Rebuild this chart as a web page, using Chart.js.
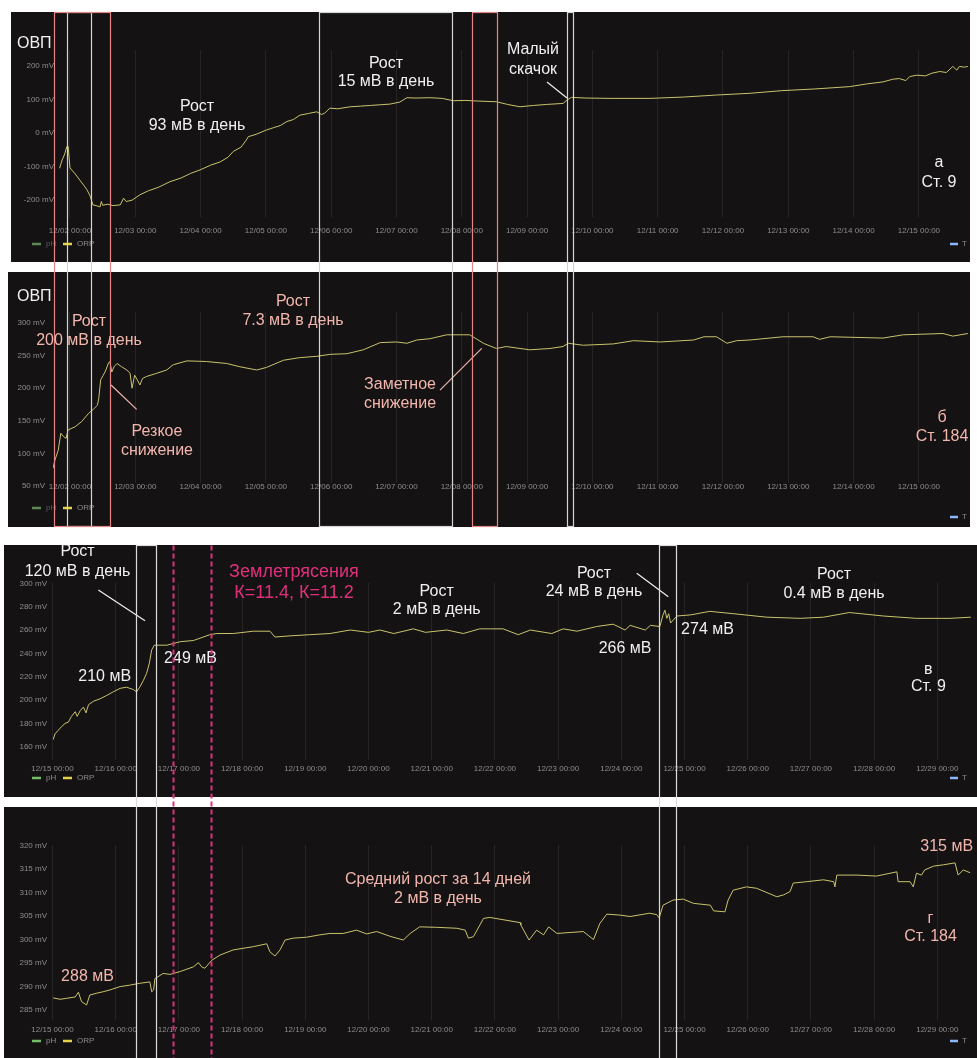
<!DOCTYPE html>
<html>
<head>
<meta charset="utf-8">
<script src="https://cdn.jsdelivr.net/npm/chart.js@4.4.1/dist/chart.umd.min.js"></script>
<style>
  body { margin: 0; background: #fff; }
  #wrap { position: relative; width: 977px; height: 1058px; overflow: hidden; }
  canvas { position: absolute; }
</style>
</head>
<body>
<div id="wrap">
  <canvas id="panelA" width="959" height="250" style="left:11px;top:12px"></canvas>
  <canvas id="panelB" width="962" height="255" style="left:8px;top:272px"></canvas>
  <canvas id="panelC" width="973" height="252" style="left:4px;top:545px"></canvas>
  <canvas id="panelD" width="973" height="251" style="left:4px;top:807px"></canvas>
  <canvas id="overlay" width="977" height="1058" style="left:0;top:0;pointer-events:none"></canvas>
</div>
<script>
// ---------------- данные (x = число декабря, дробная часть = время суток) ----------------
const tickDaysFirst  = [2, 3, 4, 5, 6, 7, 8, 9, 10, 11, 12, 13, 14, 15];
const tickDaysSecond = [15, 16, 17, 18, 19, 20, 21, 22, 23, 24, 25, 26, 27, 28, 29];

const ticksA = [-200, -100, 0, 100, 200];
const ticksB = [50, 100, 150, 200, 250, 300];
const ticksC = [160, 180, 200, 220, 240, 260, 280, 300];
const ticksD = [285, 290, 295, 300, 305, 310, 315, 320];

// а) Ст. 9, 02.12 - 15.12
const daysA = [1.84,1.88,1.92,1.95,1.97, 2.00,2.08,2.15,2.22,2.26, 2.31,2.35,2.40,2.46,2.48,
  2.50,2.58,2.66,2.77,2.82, 2.86,2.95,3.07,3.20,3.35, 3.53,3.70,3.85,3.99,4.15,
  4.30,4.42,4.50,4.62,4.70, 4.73,4.85,5.01,5.12,5.22, 5.32,5.42,5.52,5.65,5.78,
  5.85,5.90,5.98,6.10,6.29, 6.45,6.60,6.75,6.90,7.05, 7.16,7.30,7.51,7.70,7.87,
  8.05,8.25,8.53,8.70,8.89, 9.10,9.30,9.55,9.61,9.68, 9.90,10.30,10.88,11.40,11.90,
  12.40,12.90,13.40,13.94,14.20, 14.45,14.60,14.70,14.80,14.86, 14.97,15.10,15.20,15.32,15.42,
  15.52,15.58,15.62,15.70,15.75];
const orpA = [-105,-80,-62,-41,-39, -104,-122,-140,-158,-169, -188,-214,-216,-220,-204,
  -215,-212,-216,-214,-194, -204,-200,-184,-172,-162, -145,-134,-120,-110,-96,
  -86,-72,-55,-42,-21, -11,-4,9,16,22, 34,40,53,58,63,
  55,59,74,72,78, 80,82,84,86,92, 105,104,105,103,96,
  97,95,93,85,78, 82,85,88,98,106, 104,103,103,107,113,
  118,126,131,138,146, 152,160,162,156,168, 172,170,178,183,180,
  198,187,198,196,198];

// б) Ст. 184, 02.12 - 15.12
const daysB = [1.74,1.77,1.82,1.86,1.90, 1.94,1.97,2.08,2.18,2.28, 2.36,2.42,2.44,2.47,2.51,
  2.55,2.59,2.61,2.64,2.675, 2.72,2.79,2.87,2.92,2.95, 2.99,3.03,3.07,3.11,3.17,
  3.33,3.48,3.58,3.79,4.09, 4.40,4.60,4.86,5.01,5.27, 5.52,5.78,5.98,6.24,6.49,
  6.75,7.00,7.16,7.31,7.51, 7.77,8.02,8.12,8.22,8.33, 8.53,8.68,9.04,9.35,9.55,
  9.63,9.86,10.32,10.63,11.04, 11.55,11.71,11.90,12.06,12.21, 12.41,12.92,13.38,13.48,13.64,
  14.45,14.76,15.37,15.52,15.75];
const orpB = [77,90,105,131,126, 123,136,141,149,161, 168,174,184,213,220,
  228,239,241,225,233, 238,233,228,223,200, 220,213,205,215,218,
  223,228,236,242,241, 238,233,228,232,243, 247,249,252,253,259,
  270,271,269,274,276, 282,282,282,276,269, 261,264,259,261,264,
  269,266,268,273,271, 274,279,279,269,273, 274,279,279,275,279,
  277,282,284,280,284];

// в) Ст. 9, 15.12 - 29.12
const daysC = [15.01,15.04,15.09,15.14,15.20, 15.25,15.30,15.36,15.39,15.44, 15.49,15.53,15.57,15.65,15.75,
  15.86,15.96,16.07,16.17,16.28, 16.33,16.38,16.44,16.49,16.53, 16.57,16.61,16.67,16.81,17.02,
  17.23,17.49,17.60,17.86,18.18, 18.44,18.52,18.76,19.07,19.39, 19.71,20.00,20.18,20.40,20.71,
  20.90,21.24,21.50,21.76,22.13, 22.37,22.56,22.90,23.08,23.30, 23.61,23.87,24.06,24.14,24.38,
  24.46,24.61,24.66,24.69,24.72, 24.75,24.78,24.88,25.10,25.40, 25.77,26.30,26.83,27.20,27.61,
  28.15,28.67,29.20,29.53];
const orpC = [166,171,174,177,180, 181,186,190,186,191, 194,189,196,199,201,
  204,207,210,211,209, 207,211,217,223,231, 243,247,247,247,250,
  251,256,257,257,259, 259,254,255,256,257, 260,258,260,257,261,
  258,260,257,261,261, 256,260,257,261,259, 263,265,260,264,260,
  264,263,273,277,270, 274,266,272,273,276, 274,271,270,271,275,
  272,270,270,271];

// г) Ст. 184, 15.12 - 29.12
const daysD = [15.01,15.12,15.22,15.36,15.41, 15.46,15.54,15.59,15.70,15.80, 15.91,16.07,16.22,16.38,16.54,
  16.57,16.60,16.62,16.67,16.75, 16.86,17.02,17.23,17.31,17.36, 17.41,17.52,17.65,17.86,18.18,
  18.39,18.44,18.52,18.60,18.68, 18.81,19.02,19.23,19.39,19.60, 19.81,19.97,20.13,20.34,20.55,
  20.66,20.81,21.08,21.40,21.53, 21.58,21.66,21.82,21.92,22.40, 22.41,22.54,22.66,22.77,22.85,
  22.98,23.40,23.56,23.66,23.77, 23.98,24.14,24.45,24.56,24.60, 24.66,24.82,24.98,25.14,25.41,
  25.46,25.64,25.69,25.77,25.98, 26.14,26.46,26.57,26.67,26.72, 26.93,27.20,27.36,27.38,27.41,
  27.73,28.04,28.36,28.38,28.57, 28.62,28.67,28.75,28.80,28.94, 29.10,29.28,29.33,29.41,29.52];
const orpD = [287.6,287.3,287.5,287.8,288.8, 286.8,286.1,288.2,288.6,288.9, 289.3,290.0,290.3,290.7,291.0,
  288.9,289.3,291.7,292.1,292.8, 292.6,293.2,294.2,295.1,294.2, 293.9,295.6,296.7,297.8,298.5,
  299.1,297.4,296.5,297.8,299.9, 300.3,300.5,301.0,301.3,301.3, 302.0,301.2,301.7,300.7,299.9,
  301.3,302.7,302.6,302.4,302.0, 300.3,300.6,304.5,304.7,303.6, 303.1,299.9,302.0,301.0,302.7,
  301.3,301.7,300.0,303.4,305.4, 305.2,304.9,305.6,305.3,304.6, 307.3,308.4,308.6,307.7,307.3,
  306.1,305.9,308.4,310.5,311.2, 310.9,309.1,309.5,310.2,312.0, 312.3,312.7,312.3,311.2,313.7,
  313.7,313.5,314.4,312.3,312.3, 311.2,314.1,313.7,314.8,315.6, 315.9,316.3,313.7,314.8,314.2];

// отмеченные интервалы (число декабря)
const whiteBoxesTop = [[1.96, 2.32], [5.82, 7.85], [9.61, 9.71]];
const redBoxesTop = [[1.76, 2.61], [8.15, 8.54]];
const whiteBoxesBottom = [[16.32, 16.64], [24.60, 24.87]];
const quakeDays = [16.91, 17.51];

// ---------------- оформление ----------------
const BG = '#141213';
const WHITE = '#f0f0f0';
const PINK = '#f2b6ad';
const MAGENTA = '#e0307c';
const FONT = '"Liberation Sans", Arial, sans-serif';

const notesA = [
  { t: 1.188, v: 265, lines: ['ОВП'], align: 'left', color: WHITE },
  { t: 3.945, v: 80, lines: ['Рост', '93 мВ в день'], color: WHITE, lh: 19 },
  { t: 6.839, v: 208, lines: ['Рост', '15 мВ в день'], color: WHITE, lh: 18 },
  { t: 9.09, v: 247, lines: ['Малый', 'скачок'], color: WHITE, lh: 20 },
  { t: 15.308, v: -89, lines: ['а', 'Ст. 9'], color: WHITE, lh: 20 }
];
const leadersA = [{ t1: 9.305, v1: 152, t2: 9.611, v2: 104, color: WHITE }];

const notesB = [
  { t: 1.188, v: 340, lines: ['ОВП'], align: 'left', color: WHITE },
  { t: 2.291, v: 302, lines: ['Рост', '200 мВ в день'], color: PINK, lh: 18.5 },
  { t: 5.415, v: 332.7, lines: ['Рост', '7.3 мВ в день'], color: PINK, lh: 18.5 },
  { t: 3.332, v: 133.3, lines: ['Резкое', 'снижение'], color: PINK, lh: 18.5 },
  { t: 7.054, v: 204.9, lines: ['Заметное', 'снижение'], color: PINK, lh: 18.5 },
  { t: 15.354, v: 154.3, lines: ['б', 'Ст. 184'], color: PINK, lh: 18.5 }
];
const leadersB = [
  { t1: 3.021, v1: 167.6, t2: 2.628, v2: 204.9, color: PINK },
  { t1: 7.666, v1: 197.2, t2: 8.305, v2: 261.2, color: PINK }
];

const notesC = [
  { t: 15.396, v: 327.1, lines: ['Рост', '120 мВ в день'], color: WHITE, lh: 20 },
  { t: 18.821, v: 310.0, lines: ['Землетрясения', 'К=11.4, К=11.2'], color: MAGENTA, size: 18, lh: 21.5 },
  { t: 15.826, v: 220.0, lines: ['210 мВ'], color: WHITE },
  { t: 17.184, v: 235.8, lines: ['249 мВ'], color: WHITE },
  { t: 21.079, v: 292.8, lines: ['Рост', '2 мВ в день'], color: WHITE, lh: 18.3 },
  { t: 23.568, v: 308.6, lines: ['Рост', '24 мВ в день'], color: WHITE, lh: 18.4 },
  { t: 24.059, v: 244.3, lines: ['266 мВ'], color: WHITE },
  { t: 25.364, v: 260.0, lines: ['274 мВ'], color: WHITE },
  { t: 27.366, v: 307.1, lines: ['Рост', '0.4 мВ в день'], color: WHITE, lh: 18.3 },
  { t: 28.858, v: 225.7, lines: ['в', 'Ст. 9'], color: WHITE, lh: 16.7 }
];
const leadersC = [
  { t1: 15.725, v1: 294.3, t2: 16.464, v2: 268.0, color: WHITE },
  { t1: 24.244, v1: 308.6, t2: 24.744, v2: 288.6, color: WHITE }
];

const notesD = [
  { t: 15.554, v: 292.09, lines: ['288 мВ'], color: PINK },
  { t: 21.1, v: 312.66, lines: ['Средний рост за 14 дней', '2 мВ в день'], color: PINK, lh: 18.3 },
  { t: 29.149, v: 319.75, lines: ['315 мВ'], color: PINK },
  { t: 28.892, v: 304.51, lines: ['г', 'Ст. 184'], color: PINK, lh: 18.4 }
];

function dayLabel(v) {
  return '12/' + String(v).padStart(2, '0') + ' 00:00';
}

// фон, подписи, легенда
function panelPlugin(cfg) {
  return {
    id: 'panelDeco',
    beforeDraw(chart) {
      const ctx = chart.ctx;
      ctx.save();
      ctx.fillStyle = BG;
      ctx.fillRect(0, 0, chart.width, chart.height);
      ctx.restore();
    },
    afterDraw(chart) {
      const { ctx, scales: { x, y } } = chart;
      const offX = chart.canvas.offsetLeft, offY = chart.canvas.offsetTop;
      ctx.save();
      cfg.leaders.forEach(l => {
        ctx.strokeStyle = l.color;
        ctx.lineWidth = 1.2;
        ctx.beginPath();
        ctx.moveTo(x.getPixelForValue(l.t1), y.getPixelForValue(l.v1));
        ctx.lineTo(x.getPixelForValue(l.t2), y.getPixelForValue(l.v2));
        ctx.stroke();
      });
      cfg.notes.forEach(n => {
        const px = x.getPixelForValue(n.t), py = y.getPixelForValue(n.v);
        ctx.font = (n.size || 16) + 'px ' + FONT;
        ctx.fillStyle = n.color;
        ctx.textAlign = n.align || 'center';
        ctx.textBaseline = 'middle';
        n.lines.forEach((s, i) => ctx.fillText(s, px, py + i * (n.lh || 18.5)));
      });
      // легенда
      const ly = cfg.legendY - offY;
      const lx = 32 - offX;
      ctx.font = '8px ' + FONT;
      ctx.textBaseline = 'middle';
      ctx.textAlign = 'left';
      ctx.lineWidth = 2.5;
      ctx.strokeStyle = cfg.phDim ? '#5b8a52' : '#73bf69';
      ctx.beginPath(); ctx.moveTo(lx, ly); ctx.lineTo(lx + 9, ly); ctx.stroke();
      ctx.fillStyle = cfg.phDim ? '#5a5a5a' : '#8c8c8c';
      ctx.fillText('pH', lx + 14, ly);
      ctx.strokeStyle = '#e6d24a';
      ctx.beginPath(); ctx.moveTo(lx + 31, ly); ctx.lineTo(lx + 40, ly); ctx.stroke();
      ctx.fillStyle = '#8c8c8c';
      ctx.fillText('ORP', lx + 45, ly);
      const ty = cfg.tLegendY - offY;
      const tx = 950 - offX;
      ctx.strokeStyle = '#8ab8ff';
      ctx.beginPath(); ctx.moveTo(tx, ty); ctx.lineTo(tx + 8, ty); ctx.stroke();
      ctx.fillStyle = '#8c8c8c';
      ctx.fillText('T', tx + 12, ty);
      ctx.restore();
    }
  };
}

function makePanel(id, cfg) {
  const points = cfg.days.map((t, i) => ({ x: t, y: cfg.orp[i] }));
  return new Chart(document.getElementById(id), {
    type: 'line',
    data: {
      datasets: [{
        label: 'ORP',
        data: points,
        borderColor: '#c9c36c',
        borderWidth: 1,
        pointRadius: 0,
        tension: 0
      }]
    },
    options: {
      responsive: false,
      animation: false,
      devicePixelRatio: 1,
      layout: { padding: { left: cfg.padLeft, right: cfg.padRight, top: cfg.padTop, bottom: 0 } },
      plugins: { legend: { display: false }, tooltip: { enabled: false } },
      scales: {
        x: {
          type: 'linear',
          min: cfg.xMin,
          max: cfg.xMax,
          afterBuildTicks: s => { s.ticks = cfg.xTicks.map(v => ({ value: v })); },
          afterFit: s => { s.height = cfg.xH; },
          ticks: {
            autoSkip: false,
            maxRotation: 0,
            padding: cfg.xPad,
            color: '#8e8e8e',
            font: { family: FONT, size: 8 },
            callback: v => dayLabel(v)
          },
          grid: { color: 'rgba(255,255,255,0.08)', drawTicks: false },
          border: { display: false }
        },
        y: {
          min: cfg.yMin,
          max: cfg.yMax,
          afterBuildTicks: s => { s.ticks = cfg.yTicks.map(v => ({ value: v })); },
          afterFit: s => { s.width = 40; },
          ticks: {
            padding: cfg.yPad,
            color: '#8e8e8e',
            font: { family: FONT, size: 8 },
            callback: v => v + ' mV'
          },
          grid: { display: false, drawTicks: false },
          border: { display: false }
        }
      }
    },
    plugins: [panelPlugin(cfg)]
  });
}

const chartA = makePanel('panelA', {
  days: daysA, orp: orpA, xTicks: tickDaysFirst, yTicks: ticksA,
  xMin: 1.8316, xMax: 15.752, yMin: -250, yMax: 247,
  padLeft: 8, padRight: 2, padTop: 38, xH: 45, xPad: 8.5, yPad: 5,
  notes: notesA, leaders: leadersA, legendY: 244, tLegendY: 244, phDim: true
});
const chartB = makePanel('panelB', {
  days: daysB, orp: orpB, xTicks: tickDaysFirst, yTicks: ticksB,
  xMin: 1.7397, xMax: 15.752, yMin: 54.6, yMax: 317,
  padLeft: 5, padRight: 2, padTop: 40, xH: 44, xPad: -1.5, yPad: 8,
  notes: notesB, leaders: leadersB, legendY: 508, tLegendY: 517, phDim: true
});
const chartC = makePanel('panelC', {
  days: daysC, orp: orpC, xTicks: tickDaysSecond, yTicks: ticksC,
  xMin: 15.008, xMax: 29.533, yMin: 148.6, yMax: 300.3,
  padLeft: 9, padRight: 6, padTop: 38, xH: 37, xPad: 3.5, yPad: 6,
  notes: notesC, leaders: leadersC, legendY: 778, tLegendY: 778, phDim: false
});
const chartD = makePanel('panelD', {
  days: daysD, orp: orpD, xTicks: tickDaysSecond, yTicks: ticksD,
  xMin: 15.008, xMax: 29.533, yMin: 282.9, yMax: 320.1,
  padLeft: 9, padRight: 6, padTop: 38, xH: 38, xPad: 5, yPad: 6,
  notes: notesD, leaders: [], legendY: 1041, tLegendY: 1041, phDim: false
});

// ---------------- интервалы поверх панелей ----------------
function drawOverlay() {
  const ctx = document.getElementById('overlay').getContext('2d');
  const pageX = (chart, t) => Math.round(chart.canvas.offsetLeft + chart.scales.x.getPixelForValue(t)) + 0.5;

  const topY = chartA.canvas.offsetTop + 0.5;
  const midY = chartB.canvas.offsetTop + chartB.canvas.height - 0.5;
  const lowTop = chartC.canvas.offsetTop + 0.5;
  const lowBottom = chartD.canvas.offsetTop + chartD.canvas.height + 2;

  ctx.lineWidth = 1.2;
  ctx.strokeStyle = '#d4d4d4';
  whiteBoxesTop.forEach(([a, b]) => {
    const x1 = pageX(chartA, a), x2 = pageX(chartA, b);
    ctx.strokeRect(x1, topY, x2 - x1, midY - topY);
  });
  ctx.strokeStyle = '#e58585';
  redBoxesTop.forEach(([a, b]) => {
    const x1 = pageX(chartA, a), x2 = pageX(chartA, b);
    ctx.strokeRect(x1, topY, x2 - x1, midY - topY);
  });
  ctx.strokeStyle = '#dcdcdc';
  whiteBoxesBottom.forEach(([a, b]) => {
    const x1 = pageX(chartC, a), x2 = pageX(chartC, b);
    ctx.strokeRect(x1, lowTop, x2 - x1, lowBottom - lowTop);
  });
  ctx.strokeStyle = MAGENTA;
  ctx.lineWidth = 2;
  ctx.setLineDash([5, 3]);
  quakeDays.forEach(t => {
    const x = pageX(chartC, t);
    ctx.beginPath();
    ctx.moveTo(x, lowTop);
    ctx.lineTo(x, lowBottom);
    ctx.stroke();
  });
  ctx.setLineDash([]);
}
drawOverlay();
</script>
</body>
</html>
